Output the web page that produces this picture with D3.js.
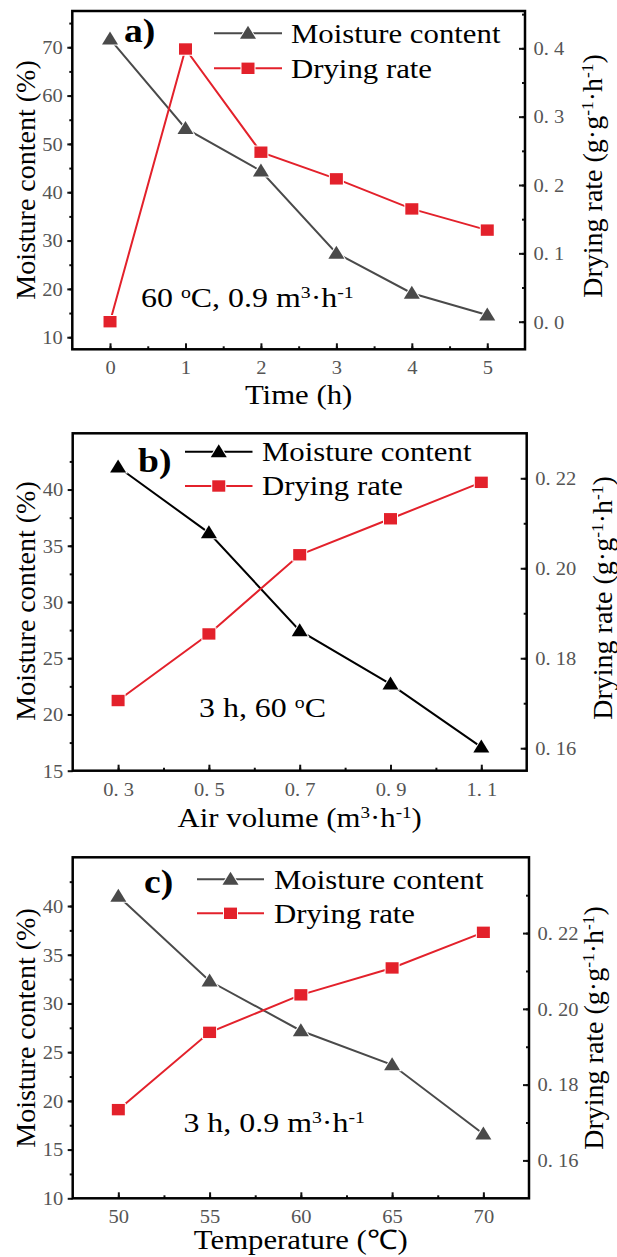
<!DOCTYPE html>
<html>
<head>
<meta charset="utf-8">
<script src="https://cdn.jsdelivr.net/npm/d3@7"></script>
<style>
  body { margin: 0; background: #fff; }
  svg text { font-family: "Liberation Serif", "Times New Roman", serif; }
</style>
</head>
<body>
<div id="wrapper"></div>
<script>
// ---- data ----
const timeHours = [0, 1, 2, 3, 4, 5]
const moistureTime = [71.7, 53.2, 44.4, 27.4, 19.1, 14.6]
const dryingTime = [0.0, 0.399, 0.248, 0.209, 0.165, 0.134]

const airVolume = [0.3, 0.5, 0.7, 0.9, 1.1]
const moistureAir = [42.0, 36.15, 27.45, 22.7, 17.1]
const dryingAir = [0.1706, 0.1854, 0.203, 0.211, 0.2191]

const temperature = [50, 55, 60, 65, 70]
const moistureTemp = [41.0, 32.3, 27.2, 23.7, 16.6]
const dryingTemp = [0.1734, 0.1938, 0.2037, 0.2108, 0.2202]

// ---- tick values ----
const xTicksA = [0, 1, 2, 3, 4, 5]
const leftTicksA = [10, 20, 30, 40, 50, 60, 70]
const rightTicksA = [0, 0.1, 0.2, 0.3, 0.4]
const xTicksB = [0.3, 0.5, 0.7, 0.9, 1.1]
const leftTicksB = [15, 20, 25, 30, 35, 40]
const rightTicksB = [0.16, 0.18, 0.20, 0.22]
const xTicksC = [50, 55, 60, 65, 70]
const leftTicksC = [10, 15, 20, 25, 30, 35, 40]
const rightTicksC = [0.16, 0.18, 0.20, 0.22]

const seriesNames = ["Moisture content", "Drying rate"]

const STRETCH = 1.14
const red = "#e3212b"

const svg = d3.select("#wrapper")
  .append("svg")
    .attr("width", 617)
    .attr("height", 1257)

// stretch text horizontally like the source image
function stretch(sel) {
  sel.each(function () {
    const len = this.getComputedTextLength()
    d3.select(this)
      .attr("textLength", len * STRETCH)
      .attr("lengthAdjust", "spacingAndGlyphs")
  })
}

// text made of plain / superscript pieces
function richText(parent, pieces) {
  const t = parent.append("text")
  pieces.forEach(p => {
    if (typeof p === "string") t.append("tspan").text(p)
    else t.append("tspan").attr("baseline-shift", "super").attr("font-size", "62%").text(p.sup)
  })
  return t
}

const triangle = "M0,-7.5L8,5.5L-8,5.5Z"
const square = "M-6.5,-5.7H6.5V5.7H-6.5Z"

function drawPanel(cfg) {
  const g = svg.append("g")

  const xScale = d3.scaleLinear().domain(cfg.xDomain).range([cfg.left, cfg.right])
  const yLeft = d3.scaleLinear().domain(cfg.yLDomain).range([cfg.bottom, cfg.top])
  const yRight = d3.scaleLinear().domain(cfg.yRDomain).range([cfg.bottom, cfg.top])

  const inside = v => v > cfg.xDomain[0] + 1e-9 && v < cfg.xDomain[1] - 1e-9
  const insideL = v => v > cfg.yLDomain[0] + 1e-9 && v < cfg.yLDomain[1] - 1e-9
  const insideR = v => v > cfg.yRDomain[0] + 1e-9 && v < cfg.yRDomain[1] - 1e-9

  // minor ticks
  const xMinor = d3.range(cfg.xDomain[0], cfg.xDomain[1] + 1e-9, cfg.xMinorStep).filter(inside)
  const lMinor = d3.range(cfg.yLDomain[0] - cfg.yLDomain[0] % cfg.lMinorStep, cfg.yLDomain[1], cfg.lMinorStep).filter(insideL)
  const rMinor = d3.range(Math.ceil(cfg.yRDomain[0] / cfg.rMinorStep) * cfg.rMinorStep, cfg.yRDomain[1], cfg.rMinorStep).filter(insideR)

  const styleAxis = a => {
    a.select(".domain").remove()
    a.selectAll(".tick line").attr("stroke", "#111").attr("stroke-width", 2)
    a.selectAll("text")
      .attr("fill", "#555")
      .attr("font-size", 18)
      .style("font-family", '"Liberation Serif", serif')
  }

  // bottom axis
  g.append("g")
    .attr("transform", `translate(0,${cfg.bottom})`)
    .call(d3.axisBottom(xScale).tickValues(xMinor).tickSize(-3).tickFormat(""))
    .call(styleAxis)
  const xAxis = g.append("g")
    .attr("transform", `translate(0,${cfg.bottom})`)
    .call(d3.axisBottom(xScale).tickValues(cfg.xTicks).tickSize(-6).tickFormat(cfg.xFormat))
    .call(styleAxis)
  xAxis.selectAll("text").attr("y", 25).attr("dy", null).call(stretch)

  // left axis
  g.append("g")
    .attr("transform", `translate(${cfg.left},0)`)
    .call(d3.axisLeft(yLeft).tickValues(lMinor).tickSize(3).tickFormat(""))
    .call(styleAxis)
  const lAxis = g.append("g")
    .attr("transform", `translate(${cfg.left},0)`)
    .call(d3.axisLeft(yLeft).tickValues(cfg.leftTicks).tickSize(5).tickFormat(d3.format("d")))
    .call(styleAxis)
  lAxis.selectAll("text").attr("x", -9.5).attr("dy", "0.35em").call(stretch)

  // right axis
  g.append("g")
    .attr("transform", `translate(${cfg.right},0)`)
    .call(d3.axisRight(yRight).tickValues(rMinor).tickSize(-3).tickFormat(""))
    .call(styleAxis)
  const rAxis = g.append("g")
    .attr("transform", `translate(${cfg.right},0)`)
    .call(d3.axisRight(yRight).tickValues(cfg.rightTicks).tickSize(-6)
      .tickFormat(d => d3.format(cfg.rFormat)(d).replace(".", ". ")))
    .call(styleAxis)
  rAxis.selectAll("text").attr("x", 8.5).attr("dy", "0.35em").call(stretch)

  // frame
  g.append("rect")
    .attr("x", cfg.left)
    .attr("y", cfg.top)
    .attr("width", cfg.right - cfg.left)
    .attr("height", cfg.bottom - cfg.top)
    .attr("fill", "none")
    .attr("stroke", "#000")
    .attr("stroke-width", 2.5)

  // lines
  const points = (ys, yScale) => cfg.xs.map((x, i) => [xScale(x), yScale(ys[i])])
  const lineGen = d3.line()
  g.append("path")
    .attr("d", lineGen(points(cfg.moisture, yLeft)))
    .attr("fill", "none")
    .attr("stroke", cfg.mColor)
    .attr("stroke-width", 2)
  g.append("path")
    .attr("d", lineGen(points(cfg.drying, yRight)))
    .attr("fill", "none")
    .attr("stroke", red)
    .attr("stroke-width", 2)

  // symbols with a thin white halo (line gap)
  g.selectAll(".mdot")
    .data(points(cfg.moisture, yLeft))
    .enter().append("path")
      .attr("class", "mdot")
      .attr("d", triangle)
      .attr("transform", d => `translate(${d[0]},${d[1]})`)
      .attr("fill", cfg.mColor)
      .attr("stroke", "#fff")
      .attr("stroke-width", 2)
      .style("paint-order", "stroke")
  g.selectAll(".ddot")
    .data(points(cfg.drying, yRight))
    .enter().append("path")
      .attr("class", "ddot")
      .attr("d", square)
      .attr("transform", d => `translate(${d[0]},${d[1]})`)
      .attr("fill", red)
      .attr("stroke", "#fff")
      .attr("stroke-width", 2)
      .style("paint-order", "stroke")

  // legend
  const lg = cfg.legend
  const rows = [
    { name: seriesNames[0], color: cfg.mColor, shape: triangle, y: lg.y },
    { name: seriesNames[1], color: red, shape: square, y: lg.y + lg.gap },
  ]
  rows.forEach(r => {
    g.append("line")
      .attr("x1", lg.x1).attr("x2", lg.x2)
      .attr("y1", r.y).attr("y2", r.y)
      .attr("stroke", r.color)
      .attr("stroke-width", 2)
    g.append("path")
      .attr("d", r.shape)
      .attr("transform", `translate(${(lg.x1 + lg.x2) / 2},${r.y})`)
      .attr("fill", r.color)
      .attr("stroke", "#fff")
      .attr("stroke-width", 2)
      .style("paint-order", "stroke")
    g.append("text")
      .attr("x", lg.tx)
      .attr("y", r.y + 9.4)
      .attr("font-size", 27)
      .text(r.name)
      .call(stretch)
  })

  // panel letter
  g.append("text")
    .attr("x", cfg.letter.x)
    .attr("y", cfg.letter.y)
    .attr("font-size", 33)
    .attr("font-weight", "bold")
    .text(cfg.letter.text)
    .call(stretch)

  // condition note
  richText(g, cfg.note.pieces)
    .attr("x", cfg.note.x)
    .attr("y", cfg.note.y)
    .attr("font-size", 28)
    .call(stretch)

  // x title
  richText(g, cfg.xTitle)
    .attr("x", (cfg.left + cfg.right) / 2)
    .attr("y", cfg.xTitleY)
    .attr("text-anchor", "middle")
    .attr("font-size", 27)
    .call(stretch)

  // y titles
  richText(g, ["Moisture content (%)"])
    .attr("transform", `translate(35,${cfg.lTitleY}) rotate(-90)`)
    .attr("text-anchor", "middle")
    .attr("font-size", 28)
  richText(g, ["Drying rate (g·g", { sup: "-1" }, "·h", { sup: "-1" }, ")"])
    .attr("transform", `translate(${cfg.rTitleX},${cfg.rTitleY}) rotate(-90)`)
    .attr("text-anchor", "middle")
    .attr("font-size", 28)
}

drawPanel({
  left: 72.3, right: 525, top: 11, bottom: 349.3,
  xDomain: [-0.5, 5.5], yLDomain: [7.5, 77.5], yRDomain: [-0.0404, 0.4546],
  xs: timeHours, moisture: moistureTime, drying: dryingTime,
  xTicks: xTicksA, leftTicks: leftTicksA, rightTicks: rightTicksA,
  xFormat: d3.format("d"), rFormat: ".1f",
  xMinorStep: 0.5, lMinorStep: 5, rMinorStep: 0.05,
  mColor: "#4a4a4a",
  legend: { x1: 214, x2: 282, tx: 291, y: 33.3, gap: 35 },
  letter: { text: "a)", x: 124, y: 41.5 },
  note: { x: 141, y: 307.3, pieces: ["60 ", { sup: "o" }, "C, 0.9 m", { sup: "3" }, "·h", { sup: "-1" }] },
  xTitle: ["Time (h)"], xTitleY: 404,
  lTitleY: 180, rTitleX: 602, rTitleY: 176,
})

drawPanel({
  left: 72.7, right: 526.7, top: 433.3, bottom: 770.7,
  xDomain: [0.2, 1.2], yLDomain: [15, 45], yRDomain: [0.155, 0.23],
  xs: airVolume, moisture: moistureAir, drying: dryingAir,
  xTicks: xTicksB, leftTicks: leftTicksB, rightTicks: rightTicksB,
  xFormat: d => d3.format(".1f")(d).replace(".", ". "), rFormat: ".2f",
  xMinorStep: 0.1, lMinorStep: 2.5, rMinorStep: 0.01,
  mColor: "#000",
  legend: { x1: 185, x2: 252.5, tx: 262, y: 451.7, gap: 34.3 },
  letter: { text: "b)", x: 138, y: 471.7 },
  note: { x: 199, y: 716.7, pieces: ["3 h, 60 ", { sup: "o" }, "C"] },
  xTitle: ["Air volume (m", { sup: "3" }, "·h", { sup: "-1" }, ")"], xTitleY: 827,
  lTitleY: 601, rTitleX: 612, rTitleY: 598,
})

drawPanel({
  left: 72.7, right: 529, top: 857.3, bottom: 1198.3,
  xDomain: [47.5, 72.5], yLDomain: [10, 45], yRDomain: [0.15, 0.24],
  xs: temperature, moisture: moistureTemp, drying: dryingTemp,
  xTicks: xTicksC, leftTicks: leftTicksC, rightTicks: rightTicksC,
  xFormat: d3.format("d"), rFormat: ".2f",
  xMinorStep: 2.5, lMinorStep: 2.5, rMinorStep: 0.01,
  mColor: "#4a4a4a",
  legend: { x1: 197, x2: 264, tx: 274, y: 879.3, gap: 34 },
  letter: { text: "c)", x: 144, y: 893 },
  note: { x: 183.4, y: 1131.7, pieces: ["3 h, 0.9 m", { sup: "3" }, "·h", { sup: "-1" }] },
  xTitle: ["Temperature (℃)"], xTitleY: 1249,
  lTitleY: 1028, rTitleX: 603, rTitleY: 1028,
})
</script>
</body>
</html>
